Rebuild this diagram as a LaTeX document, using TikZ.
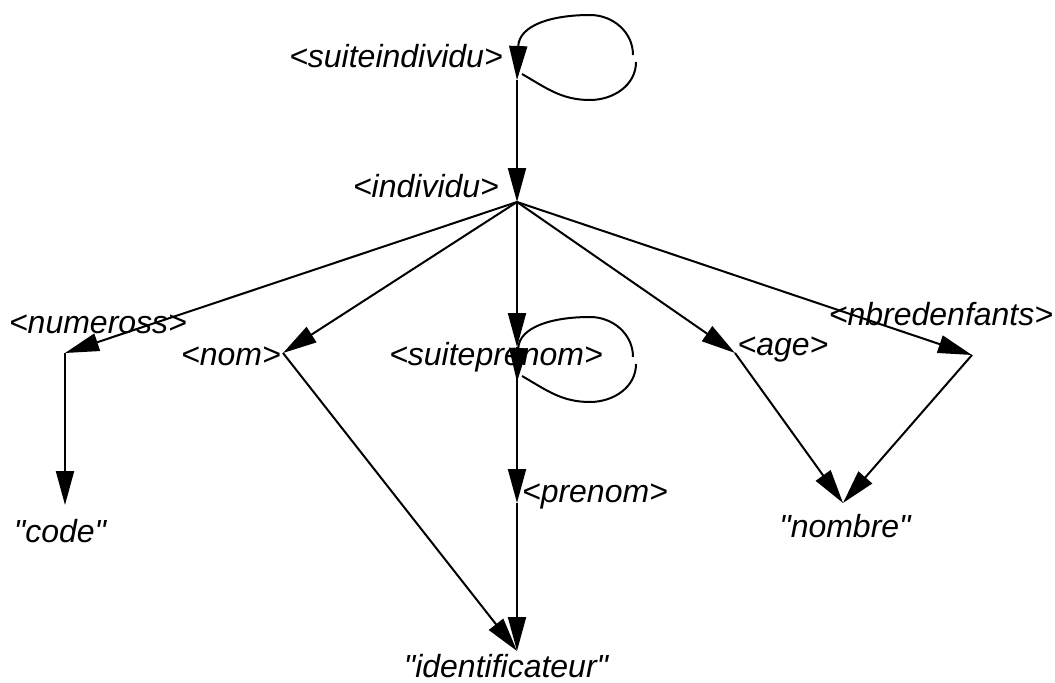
\documentclass[tikz,border=0pt]{standalone}
\usepackage{fontspec}
\setmainfont{Liberation Sans}[Ligatures=TeXOff]
\usetikzlibrary{arrows.meta}

\tikzset{
  lbl/.style={font=\fontsize{16}{19}\selectfont\itshape, inner sep=0pt, anchor=base},
  fl/.style={-{Triangle[length=17pt,width=9pt]}, line width=1pt},
}

\begin{document}
\begin{tikzpicture}[x=0.5pt, y=0.5pt]
  \useasboundingbox (0,0) rectangle (1055,682);

  % ------------------ points de jonction ------------------
  \coordinate (sind)  at (517,602);
  \coordinate (ind)   at (517,480);
  \coordinate (nss)   at (65,329);
  \coordinate (nom)   at (283,329);
  \coordinate (sprn)  at (517,335);
  \coordinate (sprnb) at (517,300);
  \coordinate (age)   at (735,329);
  \coordinate (nbe)   at (972,327);
  \coordinate (code)  at (65,177);
  \coordinate (prn)   at (517,179);
  \coordinate (nomb)  at (843,179);
  \coordinate (ident) at (517,31);

  % ------------------ etiquettes ------------------
  \node[lbl] (sind-l)  at (396,614) {<suiteindividu>};
  \node[lbl] (ind-l)   at (426,485) {<individu>};
  \node[lbl] (nss-l)   at (98,349)  {<numeross>};
  \node[lbl] (nom-l)   at (231,317) {<nom>};
  \node[lbl] (sprn-l)  at (496,317) {<suiteprenom>};
  \node[lbl] (age-l)   at (783,327) {<age>};
  \node[lbl] (nbe-l)   at (941,357) {<nbredenfants>};
  \node[lbl] (code-l)  at (60,140)  {"code"};
  \node[lbl] (prn-l)   at (595,180) {<prenom>};
  \node[lbl] (nomb-l)  at (845,145) {"nombre"};
  \node[lbl] (ident-l) at (506,5)   {"identificateur"};

  % ------------------ arcs ------------------
  \draw[fl] (sind) -- (ind);
  \foreach \t in {nss, nom, sprn, age, nbe}
    \draw[fl] (ind) -- (\t);
  \draw[fl] (nss) -- (code);
  \draw[fl] (nom) -- (ident);
  \draw[fl] (sprn) -- (prn);
  \draw[fl] (prn) -- (ident);
  \draw[fl] (age) -- (nomb);
  \draw[fl] (nbe) -- (nomb);

  % ------------------ boucles (repetition) ------------------
  \foreach \b in {sind, sprnb}
    \draw[fl, shift={(\b)}] (5,6) to[out=-30,in=180] (73,-20) to[out=0,in=-90] (119,18)
      (116,25) to[out=90,in=0] (73,65) .. controls (35,65) and (2,55) .. (0,0);
\end{tikzpicture}
\end{document}
